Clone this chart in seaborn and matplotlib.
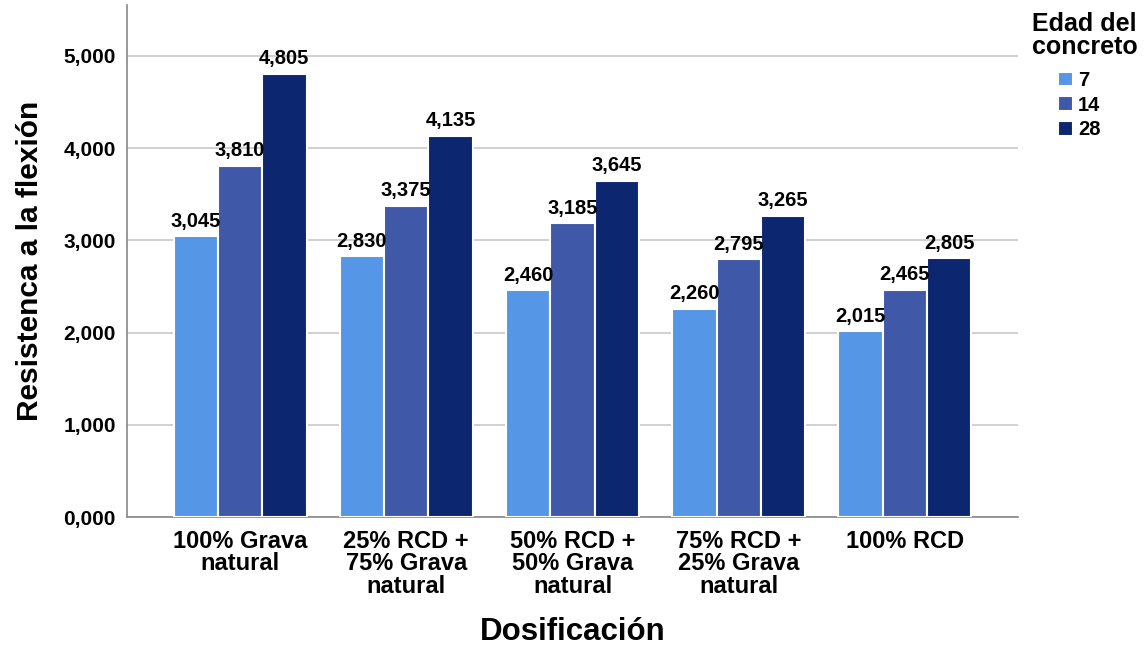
import pandas as pd
import numpy as np
from matplotlib import pyplot as plt
import seaborn as sns

# Data
dosificacion = ["100% Grava\nnatural", "25% RCD +\n75% Grava\nnatural", "50% RCD +\n50% Grava\nnatural",
                "75% RCD +\n25% Grava\nnatural", "100% RCD"]
edades = ["7", "14", "28"]
valores_7 = [3045, 2830, 2460, 2260, 2015]
valores_14 = [3810, 3375, 3185, 2795, 2465]
valores_28 = [4805, 4135, 3645, 3265, 2805]

rows = []
for edad, vals in zip(edades, [valores_7, valores_14, valores_28]):
    for d, v in zip(dosificacion, vals):
        rows.append({"Dosificacion": d, "Edad": edad, "Resistencia": v})
df = pd.DataFrame(rows)

colors = ["#5596E6", "#4058A8", "#0C2670"]

sns.set_theme(style="white")
plt.rcParams['font.family'] = ['Liberation Sans', 'DejaVu Sans']

fig = plt.figure(figsize=(11.48, 6.45), dpi=100)
ax = fig.add_axes([127 / 1148, 1 - 517 / 645, (1018 - 127) / 1148, (517 - 5) / 645])

sns.barplot(data=df, x="Dosificacion", y="Resistencia", hue="Edad", order=dosificacion,
            hue_order=edades, palette=colors, saturation=1, width=0.8, edgecolor="white",
            linewidth=1.5, ax=ax, zorder=3)

for cont in ax.containers:
    labels = [f"{v:,.0f}" for v in cont.datavalues]
    ax.bar_label(cont, labels=labels, padding=4, fontsize=14.5, fontweight="bold", color="black")

ax.set_ylim(0, 5553)
ax.set_xlim(-0.68, 4.68)
ax.set_yticks(np.arange(0, 5001, 1000))
ax.set_yticklabels([f"{t // 1000},000" for t in range(0, 5001, 1000)])
ax.yaxis.grid(True, color="#C8C8C8", linewidth=1.2, zorder=0)
ax.set_axisbelow(True)

for s in ["top", "right"]:
    ax.spines[s].set_visible(False)
for s in ["left", "bottom"]:
    ax.spines[s].set_color("#888888")
    ax.spines[s].set_linewidth(1.2)

ax.tick_params(axis="y", labelsize=15, length=0, pad=8, colors="black")
ax.tick_params(axis="x", labelsize=17, length=0, pad=9, colors="black")
for lbl in ax.get_xticklabels() + ax.get_yticklabels():
    lbl.set_fontweight("bold")
for lbl in ax.get_xticklabels():
    lbl.set_linespacing(0.98)

ax.set_xlabel("Dosificación", fontsize=22.5, fontweight="bold", labelpad=14, color="black")
ax.set_ylabel("Resistenca a la flexión", fontsize=21.5, fontweight="bold", labelpad=14, color="black")

# Legend: title on top, entries indented below it
fig.text(1032 / 1148, 1 - 12 / 645, "Edad del\nconcreto", ha="left", va="top", fontsize=18,
         fontweight="bold", color="black", linespacing=0.95)
leg = ax.legend(loc="upper left", bbox_to_anchor=(1058 / 1148, 1 - 71 / 645),
                bbox_transform=fig.transFigure, frameon=False, fontsize=14.5,
                handlelength=0.75, handleheight=0.75, handletextpad=0.25, labelspacing=0.28,
                borderpad=0, borderaxespad=0)
for t in leg.get_texts():
    t.set_fontweight("bold")
    t.set_color("black")

fig.savefig("out.png", dpi=100)
